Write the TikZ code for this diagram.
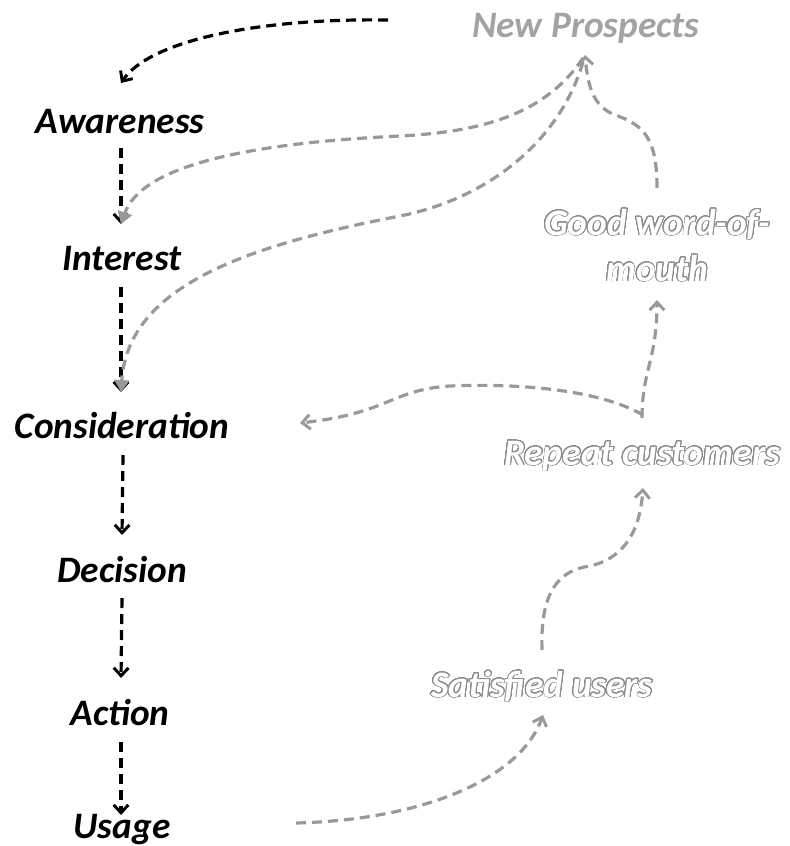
\documentclass[tikz,border=0pt]{standalone}
\usepackage{fontspec}
\setmainfont{Carlito}
\usepackage{contour}
\usetikzlibrary{arrows.meta,calc}

\definecolor{linkgray}{HTML}{999999}
\definecolor{prospectgray}{HTML}{A3A3A3}
\definecolor{rimgray}{HTML}{8C8C8C}

% hollow (outlined) lettering for the loyalty loop
\contourlength{0.7pt}
\contournumber{32}
\newcommand{\hollow}[1]{\contour{rimgray}{\textcolor{white}{#1}}}

\begin{document}
\begin{tikzpicture}[x=0.75pt,y=-0.75pt,
  stage/.style={font=\fontsize{28}{34.5}\selectfont\bfseries\itshape, inner sep=0pt, anchor=base},
  prospect/.style={stage, text=prospectgray},
  loop/.style={stage, align=center},
  blk/.style={draw=black, line width=2.4pt, dash pattern=on 7.5pt off 4.5pt,
    -{Straight Barb[length=6pt,width=11pt,line width=2.2pt]}},
  gry/.style={blk, draw=linkgray, -{Straight Barb[length=6pt,width=11pt,line width=2.2pt,color=linkgray]}},
  gryfill/.style={blk, draw=linkgray, -{Triangle[length=9pt,width=11pt,color=linkgray]}}]
\useasboundingbox (0,0) rectangle (789,846);

% funnel stages
\node[stage] (aw) at (120,133) {Awareness};
\node[stage] (in) at (122,270) {Interest};
\node[stage] (co) at (122,438) {Consideration};
\node[stage] (de) at (122,582) {Decision};
\node[stage] (ac) at (120,725) {Action};
\node[stage] (us) at (122,838) {Usage};

% loyalty loop
\node[prospect] (np) at (586,37) {New Prospects};
\node[loop] (gw) at (657,281) {\hollow{Good word-of-}\\\hollow{mouth}};
\node[loop] (rc) at (642,465) {\hollow{Repeat customers}};
\node[loop] (su) at (542,697) {\hollow{Satisfied users}};

\coordinate (feed) at (388,20);

% funnel connectors
\draw[blk] (feed) .. controls (260,18) and (150,40) .. ($(aw.base)+(1,-50)$);
\draw[blk] ($(aw.base)+(1,15)$) -- ($(in.base)+(-1,-46)$);
\draw[blk] ($(in.base)+(-1,17)$) -- ($(co.base)+(-1,-46)$);
\draw[blk] ($(co.base)+(1,17)$) -- ($(de.base)+(0,-47)$);
\draw[blk] ($(de.base)+(0,16)$) -- ($(ac.base)+(1,-47)$);
\draw[blk] ($(ac.base)+(1,17)$) -- ($(us.base)+(-1,-23)$);

% loop connectors
\draw[gryfill] ($(np.base)+(-3,21)$) .. controls (545,115) and (480,132) .. (400,136)
  .. controls (230,144) and (140,170) .. ($(in.base)+(-1,-46)$);
\draw[gryfill] ($(np.base)+(-3,25)$) .. controls (560,140) and (490,198) .. (400,216)
  .. controls (250,245) and (128,285) .. ($(co.base)+(-1,-46)$);
\draw[gry] ($(gw.base)+(0,-93)$) .. controls (657,140) and (645,125) .. (615,115)
  .. controls (595,107) and (588,90) .. ($(np.base)+(-1,18)$);
\draw[gry] ($(rc.base)+(0,-47)$) .. controls (642,370) and (657,360) .. ($(gw.base)+(0,19)$);
\draw[gry] ($(rc.base)+(1,-50)$) .. controls (600,390) and (520,383) .. (450,386)
  .. controls (390,390) and (390,413) .. ($(co.base)+(178,-15)$);
\draw[gry] ($(su.base)+(0,-47)$) .. controls (540,590) and (560,570) .. (590,566)
  .. controls (625,558) and (640,530) .. ($(rc.base)+(1,23)$);
\draw[gry] ($(us.base)+(174,-15)$) .. controls (420,820) and (520,780) .. ($(su.base)+(1,18)$);
\end{tikzpicture}
\end{document}
